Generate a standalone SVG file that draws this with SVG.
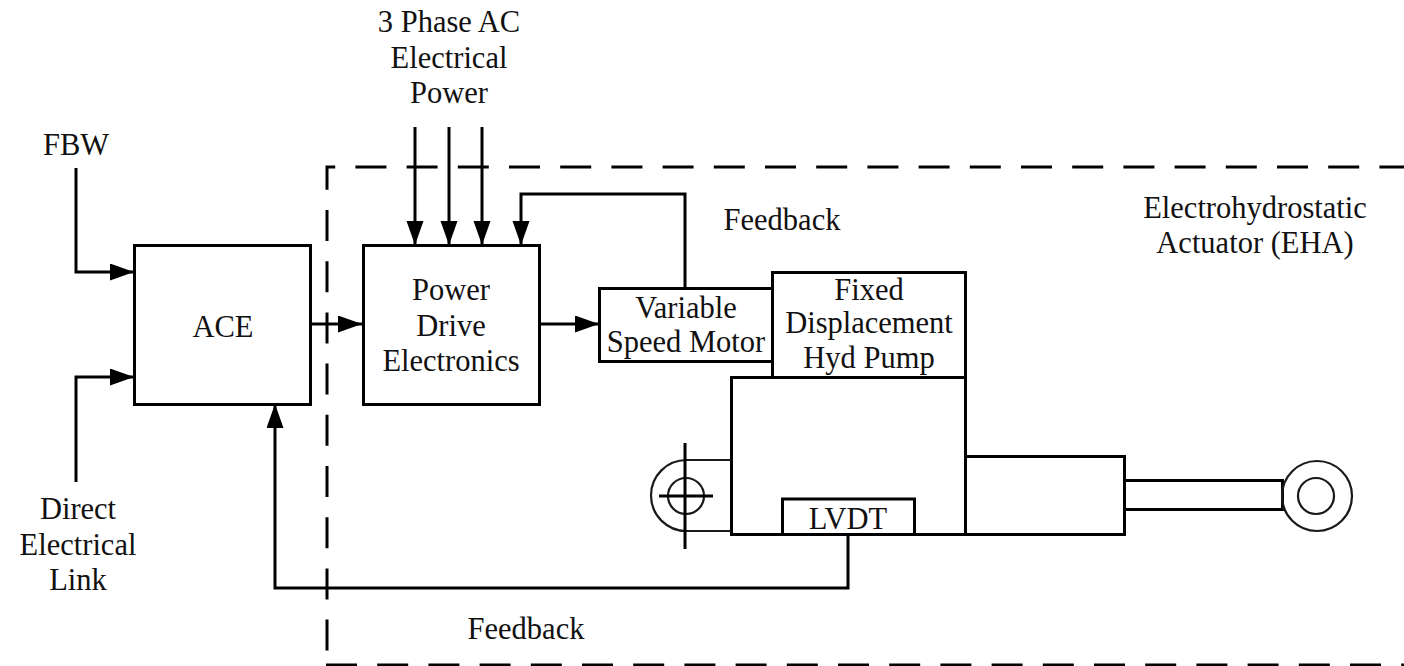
<svg xmlns="http://www.w3.org/2000/svg" width="1404" height="666" viewBox="0 0 1404 666">
<style>
text{font-family:"Liberation Serif","Times New Roman",serif;font-size:30.5px;fill:#111;text-anchor:middle}
.b{fill:none;stroke:#000;stroke-width:3}
.t{fill:none;stroke:#1a1a1a;stroke-width:2.2}
.c{fill:none;stroke:#000;stroke-width:3}
.d{fill:none;stroke:#000;stroke-width:3;stroke-dasharray:31 20.2}
</style>
<defs>
<marker id="a" markerUnits="userSpaceOnUse" markerWidth="25" markerHeight="20" refX="24" refY="8.500" orient="auto"><path d="M0 0L24 8.500L0 17Z" fill="#000"/></marker>
</defs>
<rect width="1404" height="666" fill="#fff"/>
<g id="boundary">
<path class="d" d="M327 650.6V167H1404"/>
<path class="d" d="M326 665H1404"/>
</g>
<g id="connectors">
<path class="c" marker-end="url(#a)" d="M76 168V272H134"/>
<path class="c" marker-end="url(#a)" d="M76 482V377H134"/>
<path class="c" marker-end="url(#a)" d="M311 324H362"/>
<path class="c" marker-end="url(#a)" d="M415 127V245"/>
<path class="c" marker-end="url(#a)" d="M449 127V245"/>
<path class="c" marker-end="url(#a)" d="M482 127V245"/>
<path class="c" marker-end="url(#a)" d="M685 288V194H521V245"/>
<path class="c" marker-end="url(#a)" d="M540 324H599"/>
<path class="c" marker-end="url(#a)" d="M848 535V588H275V404"/>
</g>
<g id="ace"><rect class="b" x="134.500" y="245.500" width="176" height="159"/><text x="223" y="337">ACE</text></g>
<g id="pde"><rect class="b" x="363.500" y="245.500" width="176" height="159"/><text x="451" y="300">Power</text><text x="451" y="336">Drive</text><text x="451" y="371">Electronics</text></g>
<g id="motor"><rect class="b" x="599.500" y="288.500" width="173" height="73"/><text x="686" y="318">Variable</text><text x="686" y="352">Speed Motor</text></g>
<g id="pump"><rect class="b" x="772.500" y="272.500" width="193" height="105"/><text x="869" y="300">Fixed</text><text x="869" y="333">Displacement</text><text x="869" y="368">Hyd Pump</text></g>
<g id="actuator">
<path class="b" d="M731.500 377.500H965.500V534.500H731.500Z"/>
<path class="b" d="M965.500 456.500H1124.500V534.500H965.500"/>
<path class="b" d="M1124.500 480.500H1282.500V509.500H1124.500"/>
<circle class="t" cx="1317" cy="496" r="35"/>
<circle class="t" cx="1316" cy="496" r="18"/>
<path class="t" d="M731 460H686.500A35.500 35.500 0 0 0 686.500 531H731"/>
<circle class="t" cx="686" cy="496" r="18"/>
<path class="b" d="M685 443V549M659 496H713"/>
</g>
<g id="lvdt"><rect class="b" x="782.500" y="499" width="132" height="35.500" fill="#fff"/><text x="848" y="529">LVDT</text></g>
<g id="labels">
<text x="449" y="32">3 Phase AC</text><text x="449" y="68">Electrical</text><text x="449" y="103">Power</text>
<text x="76" y="155">FBW</text>
<text x="78" y="519">Direct</text><text x="78" y="555">Electrical</text><text x="78" y="590">Link</text>
<text x="782" y="230">Feedback</text>
<text x="526" y="639">Feedback</text>
<text x="1255" y="218">Electrohydrostatic</text><text x="1255" y="253">Actuator (EHA)</text>
</g>
</svg>
